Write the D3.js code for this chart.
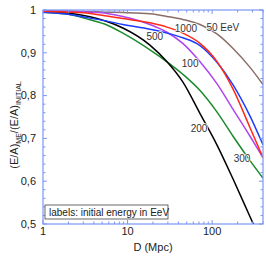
<!DOCTYPE html>
<html>
<head>
<meta charset="utf-8">
<script src="https://cdn.jsdelivr.net/npm/d3@7"></script>
<style>
  body { margin: 0; background: #fff; }
  text { font-family: "Liberation Sans", Arial, sans-serif; }
</style>
</head>
<body>
<div id="chart"></div>
<script>
const dist = [1, 2, 3.6, 5.7, 8.8, 18.4, 29.3, 45, 72, 114, 177, 281, 400];

// Ratio (E/A)_ME/(E/A)_INITIAL for each initial energy (EeV)
const e50   = [0.998, 0.997, 0.996, 0.995, 0.994, 0.991, 0.985, 0.978, 0.966, 0.944, 0.910, 0.866, 0.826];
const e100  = [0.998, 0.997, 0.995, 0.992, 0.985, 0.966, 0.948, 0.922, 0.879, 0.828, 0.768, 0.705, 0.655];
const e200  = [0.997, 0.993, 0.984, 0.973, 0.958, 0.918, 0.879, 0.832, 0.758, 0.685, 0.605, 0.517, 0.450];
const e300  = [0.995, 0.990, 0.977, 0.965, 0.946, 0.907, 0.879, 0.850, 0.812, 0.762, 0.705, 0.648, 0.607];
const e500  = [0.995, 0.990, 0.981, 0.974, 0.966, 0.955, 0.946, 0.935, 0.917, 0.878, 0.825, 0.752, 0.685];
const e1000 = [0.997, 0.995, 0.992, 0.986, 0.980, 0.970, 0.960, 0.946, 0.922, 0.880, 0.815, 0.725, 0.655];

const series = [
  {name: "50",   vals: e50,   color: "#8c6e68"},
  {name: "300",  vals: e300,  color: "#1b8a2c"},
  {name: "200",  vals: e200,  color: "#000000"},
  {name: "100",  vals: e100,  color: "#b044ee"},
  {name: "500",  vals: e500,  color: "#1c3cff"},
  {name: "1000", vals: e1000, color: "#ff2a18"}
];

// curve labels: text, D, value
const labels = [
  {t: "50 EeV", d: 134, v: 0.960},
  {t: "1000",   d: 49,  v: 0.956},
  {t: "500",    d: 21,  v: 0.939},
  {t: "100",    d: 55,  v: 0.874},
  {t: "200",    d: 70,  v: 0.724},
  {t: "300",    d: 226, v: 0.652}
];

const xTicks = [1, 10, 100];
const yTicks = [0.5, 0.6, 0.7, 0.8, 0.9, 1];

const W = 266, H = 256;
const margin = {top: 10, right: 3, bottom: 32, left: 43};
const width = W - margin.left - margin.right,
    height = H - margin.top - margin.bottom;
const axisColor = "#7b96f5";

const svg = d3.select("#chart").append("svg")
    .attr("width", W).attr("height", H)
  .append("g")
    .attr("transform", `translate(${margin.left},${margin.top})`);

const x = d3.scaleLog().domain([1, 400]).range([0, width]);
const y = d3.scaleLinear().domain([0.5, 1]).range([height, 0]);

svg.append("clipPath").attr("id", "clip")
  .append("rect").attr("width", width).attr("height", height);

// curves
const line = d3.line()
    .x((d, i) => x(dist[i]))
    .y(d => y(d))
    .curve(d3.curveMonotoneX);

svg.append("g").attr("clip-path", "url(#clip)")
  .selectAll("path")
  .data(series)
  .join("path")
    .attr("d", d => line(d.vals))
    .attr("fill", "none")
    .attr("stroke", d => d.color)
    .attr("stroke-width", 1.5);

// curve labels
svg.selectAll(".lab")
  .data(labels)
  .join("text")
    .attr("class", "lab")
    .attr("x", d => x(d.d))
    .attr("y", d => y(d.v))
    .attr("text-anchor", "middle")
    .attr("dy", "0.35em")
    .attr("font-size", 10)
    .attr("fill", "#333")
    .style("paint-order", "stroke")
    .attr("stroke", "#fff")
    .attr("stroke-width", 1.5)
    .text(d => d.t);

// minor ticks
const xMinor = [];
[1, 10, 100].forEach(dec => { for (let k = 2; k <= 9; k++) if (dec * k <= 400) xMinor.push(dec * k); });
const yMinor = d3.range(0.52, 1, 0.02).filter(v => Math.abs(v * 10 - Math.round(v * 10)) > 0.01);

const tickG = svg.append("g").attr("stroke", axisColor).attr("stroke-width", 1);
function vTicks(vals, len) {
  vals.forEach(v => {
    tickG.append("line").attr("x1", x(v)).attr("x2", x(v)).attr("y1", height).attr("y2", height - len);
    tickG.append("line").attr("x1", x(v)).attr("x2", x(v)).attr("y1", 0).attr("y2", len);
  });
}
function hTicks(vals, len) {
  vals.forEach(v => {
    tickG.append("line").attr("y1", y(v)).attr("y2", y(v)).attr("x1", 0).attr("x2", len);
    tickG.append("line").attr("y1", y(v)).attr("y2", y(v)).attr("x1", width).attr("x2", width - len);
  });
}
vTicks(xTicks, 4); vTicks(xMinor, 2.5);
hTicks(yTicks, 4); hTicks(yMinor, 2.5);

// frame
svg.append("rect")
    .attr("width", width).attr("height", height)
    .attr("fill", "none").attr("stroke", axisColor).attr("stroke-width", 1.2);

// tick labels
svg.selectAll(".xt").data(xTicks).join("text")
    .attr("x", d => x(d)).attr("y", height + 11)
    .attr("text-anchor", "middle").attr("font-size", 11).attr("fill", "#222")
    .text(d => d);
svg.selectAll(".yt").data(yTicks).join("text")
    .attr("x", -7).attr("y", d => y(d)).attr("dy", "0.35em")
    .attr("text-anchor", "end").attr("font-size", 11).attr("fill", "#222")
    .text(d => d === 1 ? "1" : d3.format(".1f")(d).replace(".", ","));

// axis titles
svg.append("text")
    .attr("x", width / 2).attr("y", height + 27)
    .attr("text-anchor", "middle").attr("font-size", 11).attr("fill", "#222")
    .text("D (Mpc)");

const yt = svg.append("text")
    .attr("transform", `translate(-25,${height / 2 + 8}) rotate(-90)`)
    .attr("text-anchor", "middle").attr("font-size", 11).attr("fill", "#222");
yt.append("tspan").text("(E/A)");
yt.append("tspan").attr("font-size", 7).attr("dy", 3).text("ME");
yt.append("tspan").attr("dy", -3).text("/(E/A)");
yt.append("tspan").attr("font-size", 7).attr("dy", 3).text("INITIAL");

// legend box
const lg = svg.append("g").attr("transform", `translate(2,${height - 19})`);
lg.append("rect").attr("width", 123).attr("height", 14)
    .attr("fill", "#fff").attr("stroke", "#444").attr("stroke-width", 0.8);
lg.append("text").attr("x", 4).attr("y", 10.5)
    .attr("font-size", 10).attr("fill", "#222")
    .text("labels: initial energy in EeV");
</script>
</body>
</html>
